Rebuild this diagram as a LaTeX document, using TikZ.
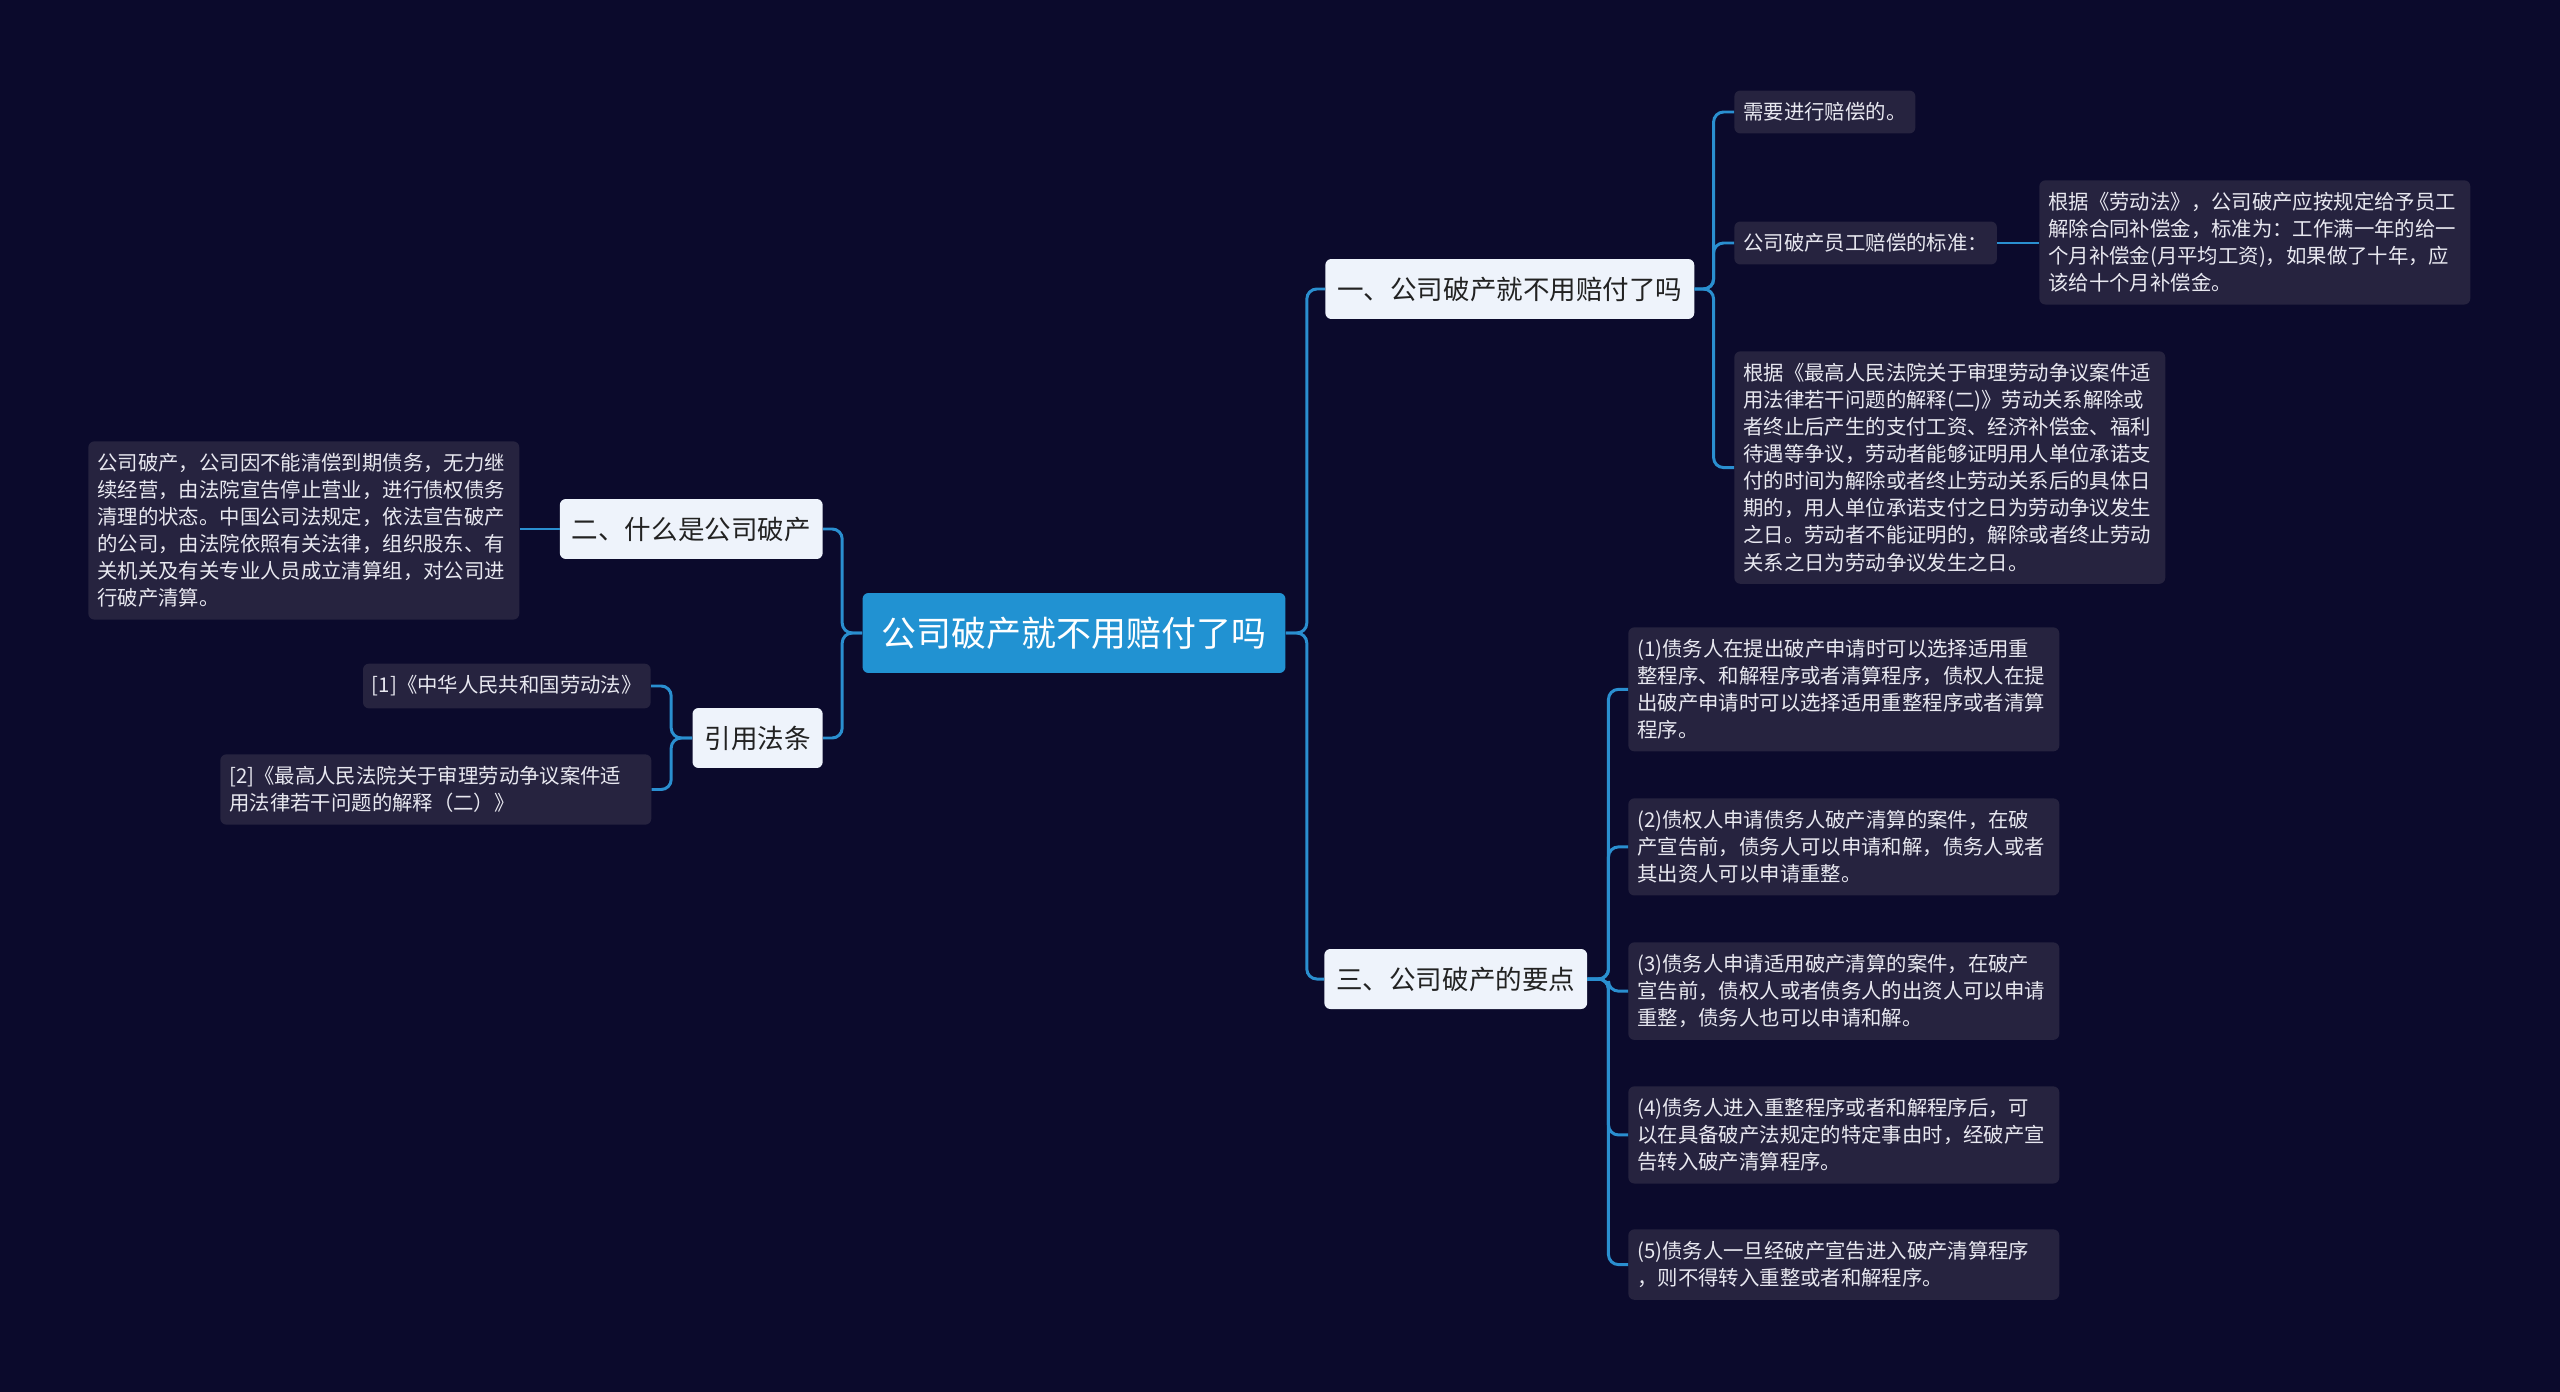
\documentclass[tikz,border=0pt]{standalone}
\usepackage{fontspec}
\setmainfont{Noto Sans CJK SC}
\definecolor{bgc}{HTML}{0B0A2C}
\definecolor{linec}{HTML}{2A8FD0}
\definecolor{rootc}{HTML}{2192D2}
\definecolor{topicc}{HTML}{EEF3FB}
\definecolor{topict}{HTML}{222222}
\definecolor{leafc}{HTML}{26233F}
\definecolor{leaft}{HTML}{E8E8F0}
\begin{document}
\begin{tikzpicture}[x=0.02cm,y=-0.02cm,
  link/.style={draw=linec,line width=1.7pt,rounded corners=0.2cm},
  rootbox/.style={fill=rootc,text=white,rounded corners=0.12cm,minimum width=8.46cm,minimum height=1.6cm,font=\fontsize{19.9}{24}\selectfont},
  topic/.style={fill=topicc,text=topict,rounded corners=0.12cm,minimum height=1.2cm,inner xsep=0.24cm,font=\fontsize{15.1}{18}\selectfont},
  leaf/.style={fill=leafc,text=leaft,rounded corners=0.12cm,inner xsep=0.18cm,inner ysep=0.24cm,align=left,font=\fontsize{11.6}{15.4}\selectfont},
  wide/.style={leaf,text width=8.26cm}]
\fill[bgc] (0,0) rectangle (2560,1392);
\useasboundingbox (0,0) rectangle (2560,1392);

\node[rootbox] (root) at (1074,633) {公司破产就不用赔付了吗};

\node[topic,anchor=west] (t1) at (1325,289) {一、公司破产就不用赔付了吗};
\node[topic,anchor=west] (t3) at (1324,979) {三、公司破产的要点};
\node[topic,anchor=east] (t2) at (823,529) {二、什么是公司破产};
\node[topic,anchor=east] (cite) at (823,738) {引用法条};

% right upper branch
\node[leaf,anchor=west] (a1) at (1734,112) {需要进行赔偿的。};
\node[leaf,anchor=west] (a2) at (1734,243) {公司破产员工赔偿的标准：};
\node[wide,anchor=north west] (a2x) at (2039,180) {根据《劳动法》，公司破产应按规定给予员工\\解除合同补偿金，标准为：工作满一年的给一\\个月补偿金(月平均工资)，如果做了十年，应\\该给十个月补偿金。};
\node[wide,anchor=north west] (a3) at (1734,351) {根据《最高人民法院关于审理劳动争议案件适\\用法律若干问题的解释(二)》劳动关系解除或\\者终止后产生的支付工资、经济补偿金、福利\\待遇等争议，劳动者能够证明用人单位承诺支\\付的时间为解除或者终止劳动关系后的具体日\\期的，用人单位承诺支付之日为劳动争议发生\\之日。劳动者不能证明的，解除或者终止劳动\\关系之日为劳动争议发生之日。};

% right lower branch
\node[wide,anchor=north west] (d1) at (1628,627) {(1)债务人在提出破产申请时可以选择适用重\\整程序、和解程序或者清算程序，债权人在提\\出破产申请时可以选择适用重整程序或者清算\\程序。};
\node[wide,anchor=north west] (d2) at (1628,798) {(2)债权人申请债务人破产清算的案件，在破\\产宣告前，债务人可以申请和解，债务人或者\\其出资人可以申请重整。};
\node[wide,anchor=north west] (d3) at (1628,942) {(3)债务人申请适用破产清算的案件，在破产\\宣告前，债权人或者债务人的出资人可以申请\\重整，债务人也可以申请和解。};
\node[wide,anchor=north west] (d4) at (1628,1086) {(4)债务人进入重整程序或者和解程序后，可\\以在具备破产法规定的特定事由时，经破产宣\\告转入破产清算程序。};
\node[wide,anchor=north west] (d5) at (1628,1229) {(5)债务人一旦经破产宣告进入破产清算程序\\，则不得转入重整或者和解程序。};

% left side
\node[wide,anchor=north west] (b1) at (88,441) {公司破产，公司因不能清偿到期债务，无力继\\续经营，由法院宣告停止营业，进行债权债务\\清理的状态。中国公司法规定，依法宣告破产\\的公司，由法院依照有关法律，组织股东、有\\关机关及有关专业人员成立清算组，对公司进\\行破产清算。};
\node[leaf,anchor=east] (c1) at (651,686) {[1]《中华人民共和国劳动法》};
\node[wide,anchor=north west] (c2) at (220,754) {[2]《最高人民法院关于审理劳动争议案件适\\用法律若干问题的解释（二）》};

\draw[link] (root.east) -- ++(21,0) |- (t1.west);
\draw[link] (root.east) -- ++(21,0) |- (t3.west);
\draw[link] (root.west) -- ++(-20,0) |- (t2.east);
\draw[link] (root.west) -- ++(-20,0) |- (cite.east);

\draw[link] (t1.east) -- ++(19,0) |- (a1.west);
\draw[link] (t1.east) -- ++(19,0) |- (a2.west);
\draw[link] (t1.east) -- ++(19,0) |- (a3.west);
\draw[link] (a2.east) -- (a2x.west |- a2.east);

\draw[link] (t3.east) -- ++(21,0) |- (d1.west);
\draw[link] (t3.east) -- ++(21,0) |- (d2.west);
\draw[link] (t3.east) -- ++(21,0) |- (d3.west);
\draw[link] (t3.east) -- ++(21,0) |- (d4.west);
\draw[link] (t3.east) -- ++(21,0) |- (d5.west);

\draw[link] (t2.west) -- (b1.east |- t2.west);
\draw[link] (cite.west) -- ++(-21,0) |- (c1.east);
\draw[link] (cite.west) -- ++(-21,0) |- (c2.east);
\end{tikzpicture}
\end{document}
